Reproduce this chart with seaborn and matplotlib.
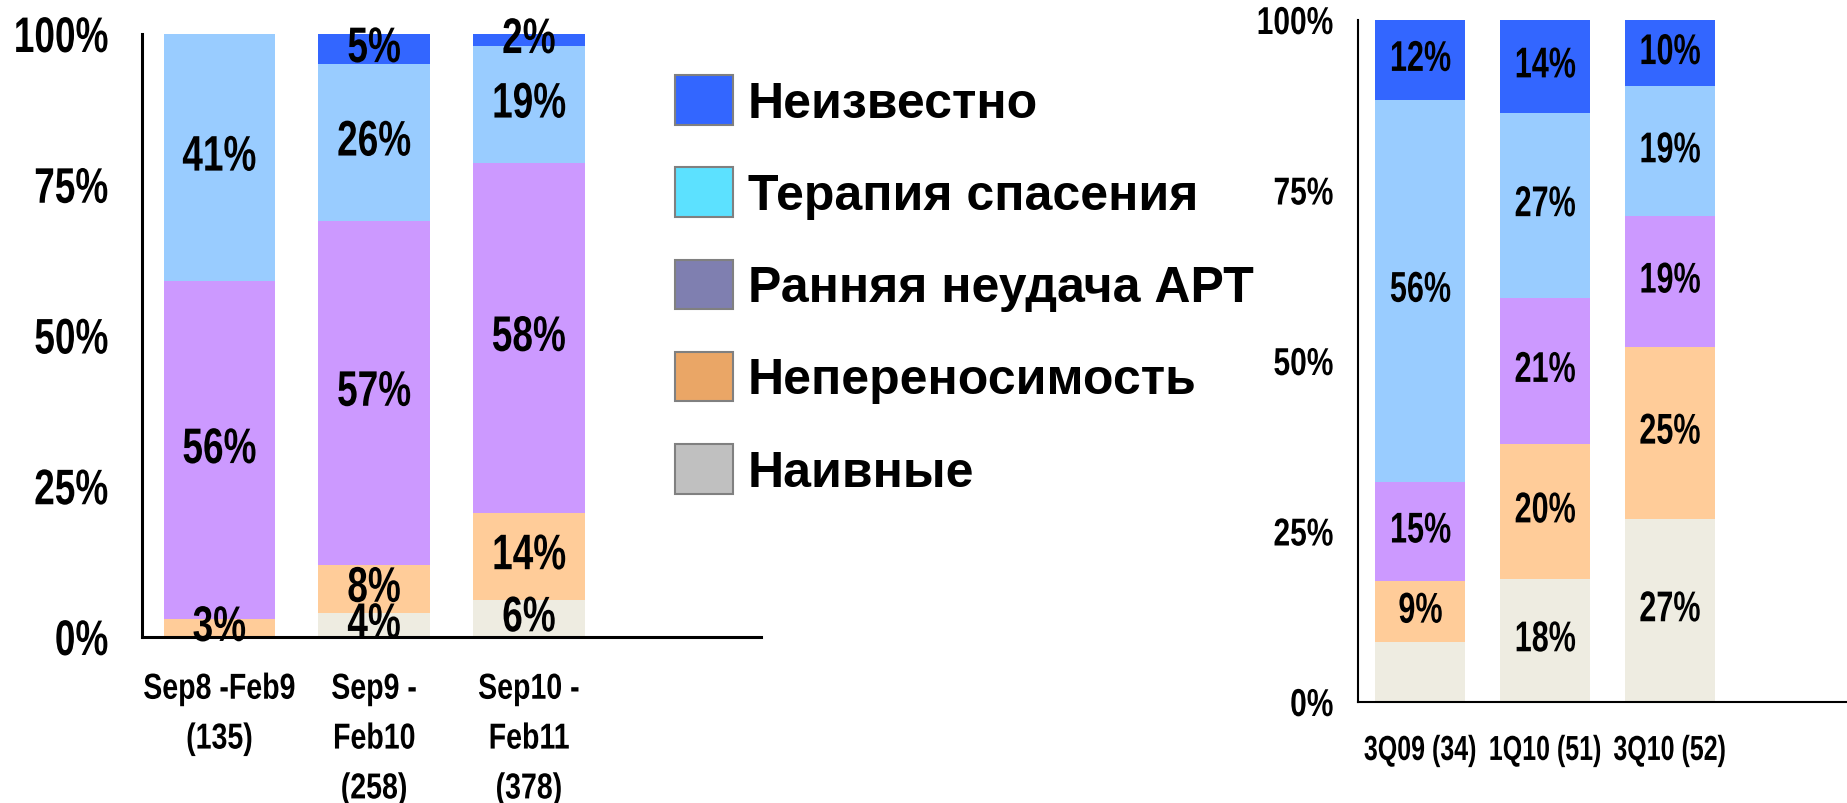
import numpy as np
import matplotlib
matplotlib.use('Agg')
import matplotlib.pyplot as plt
from matplotlib.patches import Patch
from matplotlib.patheffects import AbstractPathEffect
from matplotlib.transforms import Affine2D
import seaborn as sns

# Left chart data (percent, bottom to top)
cats_left = ['Sep8 -Feb9\n(135)', 'Sep9 -\nFeb10\n(258)', 'Sep10 -\nFeb11\n(378)']
naive_left = [0, 4, 6.2]
intol_left = [3, 8, 14.4]
early_left = [56, 57, 58]
salvage_left = [41, 26, 19.4]
unknown_left = [0, 5, 2]
naive_left_lbl = ['', '4%', '6%']
intol_left_lbl = ['3%', '8%', '14%']
early_left_lbl = ['56%', '57%', '58%']
salvage_left_lbl = ['41%', '26%', '19%']
unknown_left_lbl = ['', '5%', '2%']

# Right chart data
cats_right = ['3Q09 (34)', '1Q10 (51)', '3Q10 (52)']
naive_right = [8.8, 18.1, 26.9]
intol_right = [8.9, 19.7, 25.2]
early_right = [14.6, 21.5, 19.1]
salvage_right = [56, 27.1, 19.1]
unknown_right = [11.7, 13.6, 9.7]
naive_right_lbl = ['', '18%', '27%']
intol_right_lbl = ['9%', '20%', '25%']
early_right_lbl = ['15%', '21%', '19%']
salvage_right_lbl = ['56%', '27%', '19%']
unknown_right_lbl = ['12%', '14%', '10%']

legend_names = ['Неизвестно', 'Терапия спасения', 'Ранняя неудача АРТ', 'Непереносимость', 'Наивные']
bar_colors = ['#eeece1', '#ffcc99', '#cc99ff', '#99ccff', '#3366ff']  # bottom to top
legend_colors = ['#3366ff', '#5ce1ff', '#7f7fb0', '#eaa666', '#c0c0c0']

sns.set_style('white')
plt.rcParams['font.family'] = ['Liberation Sans', 'DejaVu Sans']
plt.rcParams['text.color'] = 'black'
plt.rcParams['xtick.color'] = 'black'
plt.rcParams['ytick.color'] = 'black'


class Condense(AbstractPathEffect):
    """squeeze text horizontally (no narrow font installed)"""
    def __init__(self, sx, anchor='center'):
        super().__init__()
        self.sx = sx
        self.anchor = anchor

    def draw_path(self, renderer, gc, tpath, affine, rgbFace=None):
        ext = tpath.get_extents()
        cx = ext.x1 if self.anchor == 'right' else (ext.x0 + ext.x1) / 2
        squeeze = Affine2D().translate(-cx, 0).scale(self.sx, 1).translate(cx, 0)
        renderer.draw_path(gc, tpath, squeeze + affine, rgbFace)


def draw_stack(ax, cats, layers, labels, fsize, sx):
    cum = np.zeros(len(cats))
    bottoms, tops = [], []
    for vals in layers:
        bottoms.append(cum.copy())
        cum = cum + np.array(vals, dtype=float)
        tops.append(cum.copy())
    # draw taller cumulative bars first, shorter ones on top
    for top, col in reversed(list(zip(tops, bar_colors))):
        sns.barplot(x=cats, y=top, color=col, width=0.72, saturation=1,
                    linewidth=0, ax=ax)
    for vals, bot, lbls in zip(layers, bottoms, labels):
        for i, (v, b, t) in enumerate(zip(vals, bot, lbls)):
            if t:
                ax.text(i, b + v / 2, t, ha='center', va='center', color='black',
                        fontsize=fsize, fontweight='bold',
                        path_effects=[Condense(sx)])


def style_axis(ax, lw, tlen, ypad, ysize, ysx, xpad, xsize, xsx, xlinesp=1.2):
    ax.set_ylim(0, 100)
    ax.set_yticks([0, 25, 50, 75, 100])
    ax.set_yticklabels(['0%', '25%', '50%', '75%', '100%'])
    ax.set_xlabel('')
    ax.set_ylabel('')
    sns.despine(ax=ax)
    for s in ['left', 'bottom']:
        ax.spines[s].set_linewidth(lw)
        ax.spines[s].set_color('black')
    ax.tick_params(axis='y', length=tlen, width=lw, pad=ypad, labelsize=ysize, color='black')
    ax.tick_params(axis='x', length=0, pad=xpad, labelsize=xsize)
    for lab in ax.get_yticklabels():
        lab.set_fontweight('bold')
        lab.set_path_effects([Condense(ysx, 'right')])
    for lab in ax.get_xticklabels():
        lab.set_fontweight('bold')
        lab.set_linespacing(xlinesp)
        lab.set_path_effects([Condense(xsx)])


fig = plt.figure(figsize=(18.47, 8.04), dpi=100)

# left chart
ax1 = fig.add_axes([142 / 1847, 1 - 638 / 804, 619 / 1847, 603 / 804])
draw_stack(ax1, cats_left,
           [naive_left, intol_left, early_left, salvage_left, unknown_left],
           [naive_left_lbl, intol_left_lbl, early_left_lbl, salvage_left_lbl, unknown_left_lbl],
           36, 0.74)
ax1.set_xlim(-0.5, 3.5)
style_axis(ax1, 2.2, 7, 17, 36, 0.74, 25, 26, 0.79, xlinesp=1.55)

# right chart
ax2 = fig.add_axes([1358 / 1847, 1 - 703 / 804, 489 / 1847, 682 / 804])
draw_stack(ax2, cats_right,
           [naive_right, intol_right, early_right, salvage_right, unknown_right],
           [naive_right_lbl, intol_right_lbl, early_right_lbl, salvage_right_lbl, unknown_right_lbl],
           31, 0.71)
ax2.set_xlim(-0.5, 3.42)
style_axis(ax2, 1.5, 6, 11.5, 28, 0.77, 23, 25, 0.72)

# legend
handles = [Patch(facecolor=c, edgecolor='#808080', linewidth=1.5) for c in legend_colors]
fig.legend(handles, legend_names, loc='upper left', bbox_to_anchor=(675 / 1847, 1 - 76 / 804),
           frameon=False, borderpad=0, borderaxespad=0, handlelength=1.15, handleheight=1.15,
           handletextpad=0.3, labelspacing=0.81,
           prop={'weight': 'bold', 'size': 36})

fig.savefig('out.png', dpi=100)
